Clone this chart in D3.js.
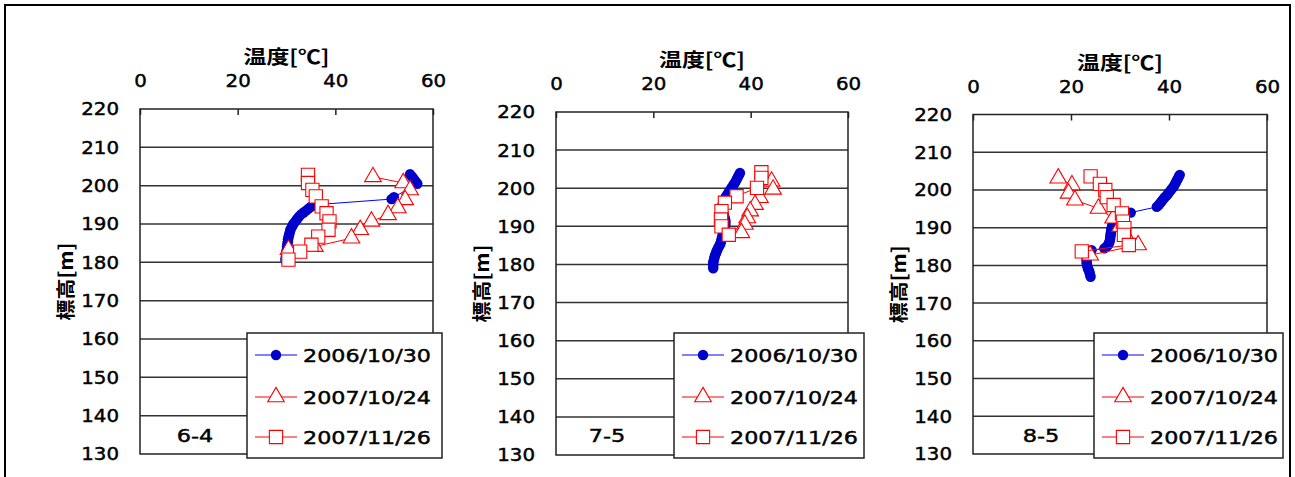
<!DOCTYPE html>
<html>
<head>
<meta charset="utf-8">
<script src="https://cdn.jsdelivr.net/npm/d3@7"></script>
<style>
  body { margin: 0; background: #fff; }
  svg { display: block; }
</style>
</head>
<body>
<svg width="1295" height="477"></svg>
<script>
const seriesNames = ["2006/10/30", "2007/10/24", "2007/11/26"];
const panelNames = ["6-4", "7-5", "8-5"];
const tempTicks = [0, 20, 40, 60];
const elevTicks = [130, 140, 150, 160, 170, 180, 190, 200, 210, 220];

// [温度, 標高]
const p64_a = [[55.3, 203.0], [55.6, 202.5], [55.9, 202.0], [56.2, 201.5], [56.5, 201.0], [56.8, 200.5],
  [52.0, 197.0], [51.5, 196.5], [35.6, 195.0], [35.0, 194.5], [34.5, 194.0], [34.0, 193.5], [33.5, 193.0],
  [33.0, 192.5], [32.6, 192.0], [32.3, 191.5], [32.0, 191.0], [31.7, 190.5], [31.4, 190.0], [31.2, 189.5],
  [31.0, 189.0], [30.8, 188.5], [30.7, 188.0], [30.6, 187.5], [30.5, 187.0], [30.4, 186.5], [30.3, 186.0],
  [30.3, 185.5], [30.2, 185.0], [30.2, 184.5], [30.1, 184.0], [30.1, 183.5], [30.0, 183.0], [30.0, 182.5],
  [29.9, 182.0], [29.9, 181.5], [29.8, 181.0], [29.8, 180.5]];
const p64_b = [[47.7, 202.3], [53.9, 200.7], [55.3, 198.9], [54.3, 196.3], [52.8, 194.2], [50.8, 192.4],
  [47.4, 190.7], [45.1, 188.5], [43.3, 186.3], [35.8, 184.1], [30.4, 183.3]];
const p64_c = [[34.4, 202.8], [34.4, 200.7], [35.3, 198.9], [36.0, 197.2], [37.2, 194.6], [38.2, 192.8],
  [38.8, 190.7], [38.6, 188.5], [36.5, 186.7], [35.1, 184.6], [32.8, 182.8], [30.4, 180.7]];

const p75_a = [[37.8, 204.0], [37.6, 203.5], [37.4, 203.0], [37.2, 202.5], [37.0, 202.0], [36.8, 201.5],
  [36.5, 201.0], [36.3, 200.5], [36.0, 200.0], [35.8, 199.5], [35.5, 199.0], [35.3, 198.5], [35.0, 198.0],
  [34.8, 197.5], [34.6, 197.0], [34.4, 196.5], [34.3, 196.0], [34.2, 195.5], [34.2, 195.0], [34.2, 194.5],
  [34.3, 194.0], [34.4, 193.5], [34.5, 193.0], [34.6, 192.5], [34.7, 192.0], [34.8, 191.5], [34.8, 191.0],
  [34.8, 190.5], [34.7, 190.0], [34.6, 189.5], [34.5, 189.0], [34.4, 188.5], [34.3, 188.0], [34.2, 187.5],
  [34.1, 187.0], [34.0, 186.5], [33.9, 186.0], [33.8, 185.5], [33.6, 185.0], [33.4, 184.5], [33.2, 184.0],
  [33.0, 183.5], [32.9, 183.0], [32.7, 182.5], [32.6, 182.0], [32.5, 181.5], [32.4, 181.0], [32.3, 180.5],
  [32.3, 180.0], [32.3, 179.5], [32.3, 179.0]];
const p75_b = [[44.3, 201.8], [44.6, 199.7], [41.9, 197.5], [40.9, 195.7], [39.9, 194.0], [39.3, 192.2],
  [38.8, 190.5], [38.1, 188.3]];
const p75_c = [[42.2, 204.2], [42.2, 202.7], [41.3, 200.1], [37.1, 197.9], [34.7, 196.2], [34.0, 194.0],
  [33.9, 191.8], [34.0, 190.0], [35.5, 187.8]];

const p85_a = [[42.2, 204.0], [42.0, 203.5], [41.8, 203.0], [41.6, 202.5], [41.4, 202.0], [41.2, 201.5],
  [41.0, 201.0], [40.7, 200.5], [40.4, 200.0], [40.1, 199.5], [39.8, 199.0], [39.5, 198.5], [39.1, 198.0],
  [38.8, 197.5], [38.5, 197.0], [38.2, 196.5], [37.9, 196.0], [37.5, 195.5], [32.2, 194.0], [31.0, 193.5],
  [30.0, 193.0], [29.5, 192.5], [29.1, 192.0], [28.8, 191.5], [28.6, 191.0], [28.4, 190.5], [28.3, 190.0],
  [28.2, 189.5], [28.2, 189.0], [28.1, 188.5], [28.1, 188.0], [28.0, 187.5], [28.0, 187.0], [27.9, 186.5],
  [27.8, 186.0], [27.6, 185.5], [27.3, 185.0], [26.8, 184.5], [24.2, 184.0], [23.8, 183.5], [23.5, 183.0],
  [23.3, 182.5], [23.2, 182.0], [23.2, 181.5], [23.2, 181.0], [23.2, 180.5], [23.3, 180.0], [23.4, 179.5],
  [23.5, 179.0], [23.7, 178.5], [23.8, 178.0], [23.9, 177.5], [24.0, 177.0]];
const p85_b = [[17.4, 203.1], [20.2, 201.3], [19.5, 199.1], [20.8, 197.3], [25.6, 195.1], [28.6, 192.5],
  [30.0, 190.3], [31.2, 188.0], [33.7, 185.4], [23.9, 182.7]];
const p85_c = [[24.0, 203.6], [25.9, 201.6], [27.0, 200.0], [27.3, 198.1], [28.7, 196.0], [30.4, 193.8],
  [30.6, 191.6], [30.9, 189.9], [30.8, 188.1], [31.8, 185.4], [22.2, 183.7]];

const panelData = [[p64_a, p64_b, p64_c], [p75_a, p75_b, p75_c], [p85_a, p85_b, p85_c]];

// 配置
const layout = [
  { left: 140, right: 433, top: 109, bottom: 454, legX: 247, legW: 195, labX: 195 },
  { left: 556, right: 848, top: 112, bottom: 455, legX: 674, legW: 190, labX: 607 },
  { left: 973, right: 1267, top: 114.5, bottom: 454, legX: 1094, legW: 189, labX: 1041 }
];

const numFont = "'DejaVu Sans', sans-serif";
const jpFont = "'Noto Sans CJK JP', sans-serif";
const svg = d3.select("svg");

// 外枠
svg.append("rect")
  .attr("x", 5).attr("y", 5).attr("width", 1285).attr("height", 500)
  .attr("fill", "none").attr("stroke", "#000").attr("stroke-width", 2);

function stretch(sel, perChar) {
  sel.attr("textLength", function () { return this.textContent.length * perChar; })
    .attr("lengthAdjust", "spacingAndGlyphs")
    .attr("stroke", "#000").attr("stroke-width", 0.45);
}

function drawMarker(g, type, x, y) {
  if (type === 0) {
    g.append("circle").attr("cx", x).attr("cy", y).attr("r", 5.2).attr("fill", "#0000cc");
  } else {
    const sym = d3.symbol().type(type === 1 ? d3.symbolTriangle : d3.symbolSquare).size(type === 1 ? 120 : 175);
    g.append("path").attr("d", sym()).attr("transform", `translate(${x},${y})`)
      .attr("fill", "#fff").attr("stroke", "#ff0000").attr("stroke-width", 1.1);
  }
}

function drawPanel(i) {
  const L = layout[i];
  const x = d3.scaleLinear().domain([0, 60]).range([L.left, L.right]);
  const y = d3.scaleLinear().domain([130, 220]).range([L.bottom, L.top]);
  const g = svg.append("g");

  // 目盛線
  g.selectAll(".grid").data(elevTicks.slice(1, -1)).join("line")
    .attr("x1", L.left).attr("x2", L.right)
    .attr("y1", d => y(d)).attr("y2", d => y(d))
    .attr("stroke", "#333").attr("stroke-width", 1.5);

  g.append("rect")
    .attr("x", L.left).attr("y", L.top)
    .attr("width", L.right - L.left).attr("height", L.bottom - L.top)
    .attr("fill", "none").attr("stroke", "#222").attr("stroke-width", 1.5);

  const xAxis = g.append("g").attr("transform", `translate(0,${L.top})`)
    .call(d3.axisTop(x).tickValues(tempTicks).tickSize(-6).tickPadding(22));
  const yAxis = g.append("g").attr("transform", `translate(${L.left},0)`)
    .call(d3.axisLeft(y).tickValues(elevTicks).tickSize(0).tickPadding(21));
  [xAxis, yAxis].forEach(a => {
    a.select(".domain").remove();
    a.selectAll("line").attr("stroke", "#222").attr("stroke-width", 1.5);
    a.selectAll("text").attr("fill", "#000").style("font-family", numFont).style("font-size", "18.5px");
    stretch(a.selectAll("text"), 12.6);
  });

  g.append("text")
    .attr("x", (L.left + L.right) / 2).attr("y", L.top - 45)
    .attr("text-anchor", "middle")
    .style("font-family", jpFont).style("font-size", "19px").style("font-weight", "bold")
    .attr("textLength", 86).attr("lengthAdjust", "spacingAndGlyphs")
    .text("温度[℃]");

  g.append("text")
    .attr("transform", `translate(${L.left - 74},${(L.top + L.bottom) / 2}) rotate(-90)`)
    .attr("text-anchor", "middle").attr("dy", "0.35em")
    .style("font-family", jpFont).style("font-size", "19px").style("font-weight", "bold")
    .attr("textLength", 78).attr("lengthAdjust", "spacingAndGlyphs")
    .text("標高[m]");

  // 系列
  const line = d3.line().x(d => x(d[0])).y(d => y(d[1]));
  const colors = ["#0000ff", "#ff0000", "#ff0000"];
  panelData[i].forEach((data, s) => {
    g.append("path").attr("d", line(data))
      .attr("fill", "none").attr("stroke", colors[s]).attr("stroke-width", 1);
    data.forEach(d => drawMarker(g, s, x(d[0]), y(d[1])));
  });

  // 凡例
  const legTop = 333;
  g.append("rect")
    .attr("x", L.legX).attr("y", legTop).attr("width", L.legW).attr("height", 125)
    .attr("fill", "#fff").attr("stroke", "#222").attr("stroke-width", 1.5);
  const rowY = [22, 64, 104];
  seriesNames.forEach((name, s) => {
    const ry = legTop + rowY[s];
    g.append("line")
      .attr("x1", L.legX + 8).attr("x2", L.legX + 50).attr("y1", ry).attr("y2", ry)
      .attr("stroke", colors[s]).attr("stroke-width", 1);
    drawMarker(g, s, L.legX + 29, ry);
    const t = g.append("text")
      .attr("x", L.legX + 56).attr("y", ry).attr("dy", "0.36em")
      .style("font-family", numFont).style("font-size", "18.5px")
      .text(name);
    stretch(t, 12.8);
  });

  const lab = g.append("text")
    .attr("x", L.labX).attr("y", 435).attr("dy", "0.36em")
    .attr("text-anchor", "middle")
    .style("font-family", numFont).style("font-size", "18.5px")
    .text(panelNames[i]);
  stretch(lab, 12.2);
}

[0, 1, 2].forEach(drawPanel);
</script>
</body>
</html>
